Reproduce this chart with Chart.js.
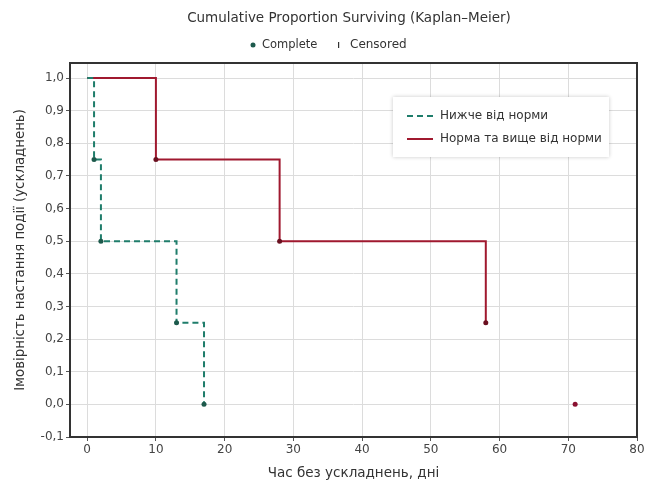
<!DOCTYPE html>
<html>
<head>
<meta charset="utf-8">
<script src="https://cdn.jsdelivr.net/npm/chart.js@4.4.1/dist/chart.umd.min.js"></script>
<style>
  html, body { margin: 0; padding: 0; background: #fff; }
  #wrap { width: 656px; height: 482px; }
</style>
</head>
<body>
<div id="wrap"><canvas id="km"></canvas></div>
<script>
// Kaplan-Meier curves
const lowTimes = [0, 1, 2, 13, 17];
const lowSurv = [1.0, 0.75, 0.5, 0.25, 0.0];
const normTimes = [0, 10, 28, 58];
const normSurv = [1.0, 0.75, 0.5, 0.25];
const normExtraTimes = [71];
const normExtraSurv = [0.0];

const seriesNames = ["Нижче від норми", "Норма та вище від норми"];
const chartTitle = "Cumulative Proportion Surviving (Kaplan\u2013Meier)";
const markerNames = ["Complete", "Censored"];
const xTitle = "Час без ускладнень, дні";
const yTitle = "Імовірність настання події (ускладнень)";

const GREEN = "#1f7d6b";
const RED = "#a0192f";
const FONT = "'DejaVu Sans', sans-serif";

const toXY = (xs, ys) => xs.map((x, i) => ({ x: x, y: ys[i] }));

// frame, header and inner legend
const decor = {
  id: "decor",
  afterDatasetsDraw(chart) {
    const { ctx, chartArea: a } = chart;
    ctx.save();
    ctx.strokeStyle = "#333";
    ctx.lineWidth = 2;
    ctx.strokeRect(a.left, a.top, a.right - a.left, a.bottom - a.top);

    // legend box
    const bx = 393, by = 97, bw = 216, bh = 60;
    ctx.fillStyle = "#fff";
    ctx.shadowColor = "rgba(0,0,0,0.22)";
    ctx.shadowBlur = 4;
    ctx.fillRect(bx, by, bw, bh);
    ctx.shadowBlur = 0;
    ctx.shadowColor = "transparent";
    ctx.lineWidth = 2;
    ctx.strokeStyle = GREEN;
    ctx.setLineDash([6, 4]);
    ctx.beginPath(); ctx.moveTo(407, 116); ctx.lineTo(433, 116); ctx.stroke();
    ctx.setLineDash([]);
    ctx.strokeStyle = RED;
    ctx.beginPath(); ctx.moveTo(407, 139); ctx.lineTo(433, 139); ctx.stroke();
    ctx.fillStyle = "#333";
    ctx.font = "12px " + FONT;
    ctx.textBaseline = "middle";
    ctx.fillText(seriesNames[0], 440, 116);
    ctx.fillText(seriesNames[1], 440, 139);

    // header
    ctx.textAlign = "center";
    ctx.font = "13.5px " + FONT;
    ctx.fillText(chartTitle, 349, 18);
    ctx.textAlign = "left";
    ctx.font = "11.5px " + FONT;
    ctx.fillStyle = "#1d5a4c";
    ctx.beginPath(); ctx.arc(253, 45, 2.5, 0, Math.PI * 2); ctx.fill();
    ctx.fillStyle = "#333";
    ctx.fillText(markerNames[0], 262, 45);
    ctx.fillRect(338, 42, 1.2, 6);
    ctx.font = "12px " + FONT;
    ctx.fillText(markerNames[1], 350, 45);
    ctx.restore();
  }
};

const fmt = v => (Math.round(v * 10) / 10).toFixed(1).replace(".", ",");

new Chart(document.getElementById("km"), {
  type: "scatter",
  data: {
    datasets: [
      {
        label: seriesNames[0],
        data: toXY(lowTimes, lowSurv),
        showLine: true,
        stepped: true,
        borderColor: GREEN,
        borderWidth: 2,
        borderDash: [6, 4],
        pointRadius: [0, 2.5, 2.5, 2.5, 2.5],
        pointBackgroundColor: "#1d5a4c",
        pointBorderWidth: 0
      },
      {
        label: seriesNames[1],
        data: toXY(normTimes, normSurv),
        showLine: true,
        stepped: true,
        borderColor: RED,
        borderWidth: 2,
        pointRadius: [0, 2.5, 2.5, 2.5],
        pointBackgroundColor: "#6a1020",
        pointBorderWidth: 0
      },
      {
        label: seriesNames[1],
        data: toXY(normExtraTimes, normExtraSurv),
        showLine: false,
        pointRadius: 2.5,
        pointBackgroundColor: "#8a1030",
        pointBorderWidth: 0
      }
    ]
  },
  options: {
    responsive: true,
    maintainAspectRatio: false,
    animation: false,
    layout: { padding: { top: 63, right: 19, left: 13, bottom: 0 } },
    plugins: {
      legend: { display: false },
      tooltip: { enabled: false }
    },
    scales: {
      x: {
        type: "linear",
        min: -2.5,
        max: 80,
        afterFit: s => { s.height = 45; },
        ticks: {
          stepSize: 10,
          includeBounds: false,
          padding: 2,
          color: "#444",
          font: { family: FONT, size: 12 },
          maxRotation: 0
        },
        grid: { color: "#dcdcdc", tickLength: 4, tickColor: "#555" },
        border: { display: false },
        title: {
          display: true,
          text: xTitle,
          color: "#333",
          font: { family: FONT, size: 13.5 },
          padding: { top: 2, bottom: 0 }
        }
      },
      y: {
        type: "linear",
        min: -0.1,
        max: 1.046,
        afterFit: s => { s.width = 57; },
        ticks: {
          stepSize: 0.1,
          includeBounds: false,
          padding: 2,
          color: "#444",
          font: { family: FONT, size: 12 },
          callback: v => fmt(v)
        },
        grid: { color: "#dcdcdc", tickLength: 4, tickColor: "#555" },
        border: { display: false },
        title: {
          display: true,
          text: yTitle,
          color: "#333",
          font: { family: FONT, size: 13.3 },
          padding: { top: 0, bottom: 0 }
        }
      }
    }
  },
  plugins: [decor]
});
</script>
</body>
</html>
